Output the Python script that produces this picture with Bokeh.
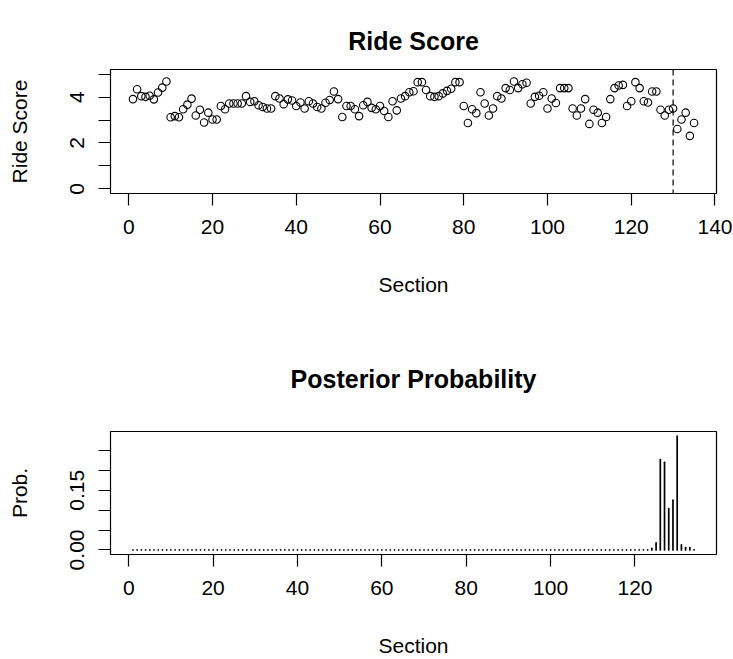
from bokeh.plotting import figure
from bokeh.models import Range1d, FixedTicker, Span
from bokeh.layouts import column
from bokeh.embed import file_html
from bokeh.resources import INLINE

FONT = "Liberation Sans"

# ---------------- data: top panel ----------------
section = list(range(1, 136))
ride_score = [
    3.91, 4.34, 4.04, 4.01, 4.06, 3.90, 4.20, 4.41, 4.68, 3.12,
    3.17, 3.12, 3.47, 3.67, 3.93, 3.20, 3.45, 2.89, 3.32, 3.02,
    3.02, 3.61, 3.47, 3.72, 3.72, 3.72, 3.72, 4.04, 3.79, 3.82,
    3.64, 3.57, 3.50, 3.50, 4.04, 3.94, 3.69, 3.90, 3.85, 3.61,
    3.76, 3.50, 3.82, 3.72, 3.57, 3.50, 3.75, 3.87, 4.24, 3.91,
    3.13, 3.61, 3.61, 3.47, 3.17, 3.64, 3.79, 3.53, 3.47, 3.61,
    3.39, 3.13, 3.82, 3.42, 3.94, 4.04, 4.21, 4.25, 4.65, 4.65,
    4.31, 4.04, 4.01, 4.04, 4.16, 4.27, 4.36, 4.65, 4.65, 3.61,
    2.87, 3.47, 3.30, 4.21, 3.72, 3.20, 3.50, 4.04, 3.94, 4.39,
    4.31, 4.68, 4.39, 4.56, 4.62, 3.72, 4.01, 4.06, 4.21, 3.50,
    3.94, 3.74, 4.39, 4.39, 4.39, 3.50, 3.20, 3.50, 3.91, 2.83,
    3.45, 3.32, 2.87, 3.13, 3.91, 4.39, 4.50, 4.53, 3.61, 3.82,
    4.65, 4.39, 3.82, 3.76, 4.24, 4.24, 3.45, 3.20, 3.45, 3.50,
    2.61, 3.02, 3.32, 2.31, 2.87,
]
change_point = 130
score_limits = [0, 5]
score_ticks = [0, 1, 2, 3, 4, 5]
score_tick_labels = ["0", "", "2", "", "4", ""]
top_x_ticks = [0, 20, 40, 60, 80, 100, 120, 140]
top_x_tick_labels = ["0", "20", "40", "60", "80", "100", "120", "140"]

# ---------------- data: bottom panel ----------------
prob_section = list(range(1, 135))
posterior_prob = [
    0, 0, 0, 0, 0, 0, 0, 0, 0, 0,
    0, 0, 0, 0, 0, 0, 0, 0, 0, 0,
    0, 0, 0, 0, 0, 0, 0, 0, 0, 0,
    0, 0, 0, 0, 0, 0, 0, 0, 0, 0,
    0, 0, 0, 0, 0, 0, 0, 0, 0, 0,
    0, 0, 0, 0, 0, 0, 0, 0, 0, 0,
    0, 0, 0, 0, 0, 0, 0, 0, 0, 0,
    0, 0, 0, 0, 0, 0, 0, 0, 0, 0,
    0, 0, 0, 0, 0, 0, 0, 0, 0, 0,
    0, 0, 0, 0, 0, 0, 0, 0, 0, 0,
    0, 0, 0, 0, 0, 0, 0, 0, 0, 0,
    0, 0, 0, 0, 0, 0, 0, 0, 0, 0,
    0, 0, 0, 0.004, 0.018, 0.227, 0.220, 0.104, 0.125, 0.286,
    0.013, 0.006, 0.006, 0,
]
prob_ticks = [0.0, 0.05, 0.1, 0.15, 0.2, 0.25]
prob_tick_labels = ["0.00", "", "", "0.15", "", ""]
bot_x_ticks = [0, 20, 40, 60, 80, 100, 120]
bot_x_tick_labels = ["0", "20", "40", "60", "80", "100", "120"]


def padded(lo, hi):
    d = (hi - lo) * 0.04
    return Range1d(lo - d, hi + d)


def style(p, xt, xl, yt, yl, xlabel, ylabel, xlab_standoff, title_standoff):
    p.xgrid.visible = False
    p.ygrid.visible = False
    p.background_fill_color = "white"
    p.border_fill_color = "white"
    p.outline_line_color = "black"
    p.outline_line_width = 1.2
    p.outline_line_alpha = 1.0

    p.title.align = "center"
    p.title.text_font = FONT
    p.title.text_font_size = "25px"
    p.title.text_font_style = "bold"
    p.title.text_color = "black"
    p.title.standoff = title_standoff

    p.xaxis.ticker = FixedTicker(ticks=xt)
    p.xaxis.major_label_overrides = dict(zip(xt, xl))
    p.yaxis.ticker = FixedTicker(ticks=yt)
    p.yaxis.major_label_overrides = dict(zip(yt, yl))
    p.yaxis.major_label_orientation = "vertical"

    for ax in (p.xaxis[0], p.yaxis[0]):
        ax.axis_line_color = None
        ax.major_tick_line_color = "black"
        ax.major_tick_line_width = 1.2
        ax.major_tick_out = 12
        ax.major_tick_in = 0
        ax.minor_tick_line_color = None
        ax.major_label_text_font = FONT
        ax.major_label_text_font_size = "21px"
        ax.major_label_text_color = "black"
        ax.axis_label_text_font = FONT
        ax.axis_label_text_font_size = "21px"
        ax.axis_label_text_font_style = "normal"
        ax.axis_label_text_color = "black"

    p.xaxis.major_label_standoff = 14
    p.yaxis.major_label_standoff = 14
    p.xaxis.axis_label = xlabel
    p.yaxis.axis_label = ylabel
    p.xaxis.axis_label_standoff = xlab_standoff
    p.yaxis.axis_label_standoff = 37


# ---------------- top figure ----------------
p1 = figure(
    width=733, height=305,
    x_range=padded(min(section), max(section)),
    y_range=padded(*score_limits),
    title="Ride Score",
    output_backend="svg", toolbar_location=None,
    min_border_left=110, min_border_right=17,
    min_border_top=69, min_border_bottom=112,
)
p1.scatter(section, ride_score, marker="circle", size=7.5,
           fill_color=None, line_color="black", line_width=1.1)
p1.add_layout(Span(location=change_point, dimension="height",
                   line_color="black", line_width=1.2, line_dash="6 4"))
style(p1, top_x_ticks, top_x_tick_labels, score_ticks, score_tick_labels,
      "Section", "Ride Score", 36, 30)

# ---------------- bottom figure ----------------
p2 = figure(
    width=733, height=354,
    x_range=padded(min(prob_section), max(prob_section)),
    y_range=padded(0, max(posterior_prob)),
    title="Posterior Probability",
    output_backend="svg", toolbar_location=None,
    min_border_left=110, min_border_right=17,
    min_border_top=126, min_border_bottom=105,
)
p2.segment(x0=prob_section, y0=0, x1=prob_section, y1=posterior_prob,
           line_color="black", line_width=1.7, line_cap="round")
style(p2, bot_x_ticks, bot_x_tick_labels, prob_ticks, prob_tick_labels,
      "Section", "Prob.", 36, 77)

layout = column(p1, p2)
open("out.html", "w").write(file_html(layout, INLINE))
